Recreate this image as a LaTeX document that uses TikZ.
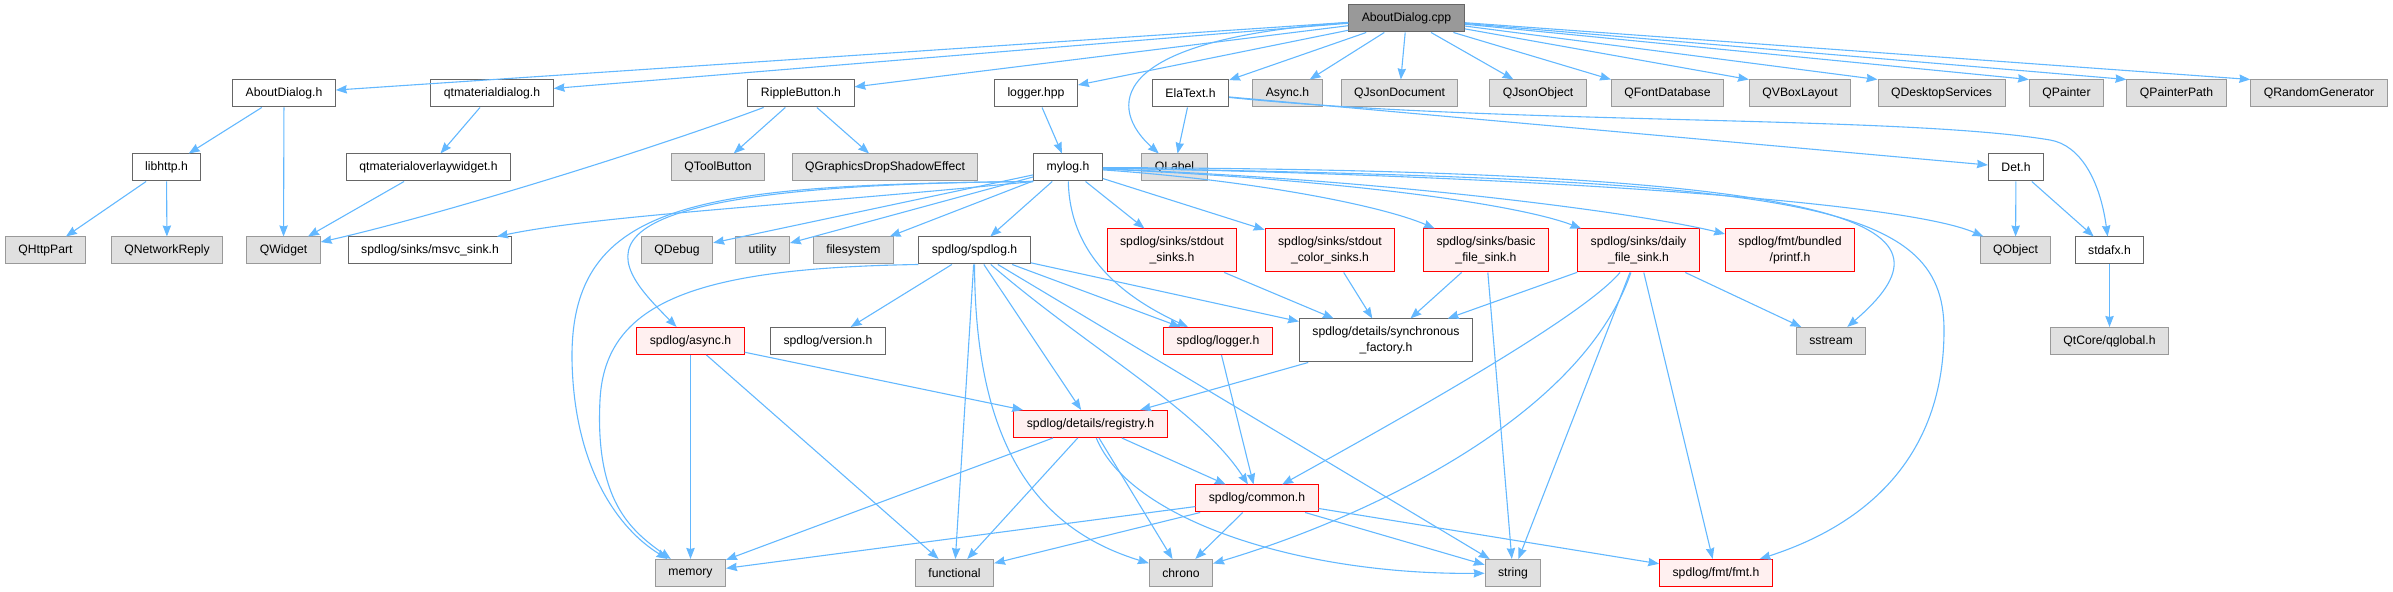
\documentclass[tikz,border=0pt]{standalone}
\usepackage{fontspec}
\setmainfont{Liberation Sans}
\usetikzlibrary{arrows.meta}

\definecolor{edgeblue}{HTML}{63B8FF}
\definecolor{hdrline}{HTML}{666666}
\definecolor{sysline}{HTML}{999999}
\definecolor{sysfill}{HTML}{E0E0E0}
\definecolor{rootfill}{HTML}{999999}
\definecolor{redline}{HTML}{FF0000}
\definecolor{redfill}{HTML}{FFF0F0}

\begin{document}
\begin{tikzpicture}
    [
        x=0.5pt, y=-0.5pt, % one unit = one pixel of the graph, y downwards
        hdrbox/.style={draw=hdrline, fill=white, rectangle, line width=0.5pt, inner xsep=6.5pt, inner ysep=1pt, minimum height=13.5pt, align=center, font=\fontsize{6.1pt}{7.8pt}\selectfont},
        rootbox/.style={hdrbox, fill=rootfill},
        sysbox/.style={hdrbox, draw=sysline, fill=sysfill},
        redbox/.style={hdrbox, draw=redline, fill=redfill},
        tallbox/.style={minimum height=21.5pt},
        dep/.style={draw=edgeblue, line width=0.55pt, -{Stealth[length=5.5pt, width=4.2pt, inset=0.5pt]}}
    ]
        \useasboundingbox (0,0) rectangle (2393,592);

        % =========================================================================
        % NODES
        % =========================================================================
        % --- Row 0 ---
        \node [rootbox] (cpp) at (1406.5,18.5) {AboutDialog.cpp};

        % --- Row 1 ---
        \node [hdrbox] (aboutdlg) at (284,93.5) {AboutDialog.h};
        \node [hdrbox] (qtmdialog) at (492,93.5) {qtmaterialdialog.h};
        \node [hdrbox] (ripple) at (801,93.5) {RippleButton.h};
        \node [hdrbox] (loggerhpp) at (1036,93.5) {logger.hpp};
        \node [hdrbox] (elatext) at (1190.5,93.5) {ElaText.h};
        \node [sysbox] (asynch) at (1287.5,93.5) {Async.h};
        \node [sysbox] (qjsondoc) at (1399.5,93.5) {QJsonDocument};
        \node [sysbox] (qjsonobj) at (1538,93.5) {QJsonObject};
        \node [sysbox] (qfontdb) at (1667.5,93.5) {QFontDatabase};
        \node [sysbox] (qvbox) at (1800,93.5) {QVBoxLayout};
        \node [sysbox] (qdesktop) at (1941.5,93.5) {QDesktopServices};
        \node [sysbox] (qpainter) at (2066.5,93.5) {QPainter};
        \node [sysbox] (qpainterpath) at (2176.5,93.5) {QPainterPath};
        \node [sysbox] (qrandom) at (2319,93.5) {QRandomGenerator};

        % --- Row 2 ---
        \node [hdrbox] (libhttp) at (166.5,167.5) {libhttp.h};
        \node [hdrbox] (overlay) at (428.5,167.5) {qtmaterialoverlaywidget.h};
        \node [sysbox] (qtoolbutton) at (718,167.5) {QToolButton};
        \node [sysbox] (qshadow) at (885,167.5) {QGraphicsDropShadowEffect};
        \node [hdrbox] (mylog) at (1068,167.5) {mylog.h};
        \node [sysbox] (qlabel) at (1174.5,167.5) {QLabel};
        \node [hdrbox] (deth) at (2016,167.5) {Det.h};

        % --- Row 3 ---
        \node [sysbox] (qhttppart) at (45.5,250.5) {QHttpPart};
        \node [sysbox] (qnetreply) at (167,250.5) {QNetworkReply};
        \node [sysbox] (qwidget) at (283.5,250.5) {QWidget};
        \node [hdrbox] (msvcsink) at (430,250.5) {spdlog/sinks/msvc\_sink.h};
        \node [sysbox] (qdebug) at (677,250.5) {QDebug};
        \node [sysbox] (utility) at (762.5,250.5) {utility};
        \node [sysbox] (filesystem) at (853.5,250.5) {filesystem};
        \node [hdrbox] (spdlogh) at (974.5,250.5) {spdlog/spdlog.h};
        \node [redbox, tallbox] (stdoutsinks) at (1172,250.5) {spdlog/sinks/stdout\\\_sinks.h};
        \node [redbox, tallbox] (colorsinks) at (1330,250.5) {spdlog/sinks/stdout\\\_color\_sinks.h};
        \node [redbox, tallbox] (basicsink) at (1486,250.5) {spdlog/sinks/basic\\\_file\_sink.h};
        \node [redbox, tallbox] (dailysink) at (1638.5,250.5) {spdlog/sinks/daily\\\_file\_sink.h};
        \node [redbox, tallbox] (printfh) at (1790,250.5) {spdlog/fmt/bundled\\/printf.h};
        \node [sysbox] (qobject) at (2015.5,250.5) {QObject};
        \node [hdrbox] (stdafx) at (2109.5,250.5) {stdafx.h};

        % --- Row 4 ---
        \node [redbox] (asyncsp) at (690.5,341) {spdlog/async.h};
        \node [hdrbox] (versionh) at (828,341) {spdlog/version.h};
        \node [redbox] (loggerh) at (1218,341) {spdlog/logger.h};
        \node [hdrbox, tallbox] (syncfactory) at (1386,340.5) {spdlog/details/synchronous\\\_factory.h};
        \node [sysbox] (sstream) at (1831,341) {sstream};
        \node [sysbox] (qglobal) at (2109.5,341) {QtCore/qglobal.h};

        % --- Rows 5 and 6 ---
        \node [redbox] (registry) at (1090.5,424) {spdlog/details/registry.h};
        \node [redbox] (common) at (1257,498.5) {spdlog/common.h};

        % --- Row 7 ---
        \node [sysbox] (memory) at (690.5,573) {memory};
        \node [sysbox] (functional) at (954.5,573) {functional};
        \node [sysbox] (chrono) at (1181,573) {chrono};
        \node [sysbox] (string) at (1513,573) {string};
        \node [redbox] (fmth) at (1716,573) {spdlog/fmt/fmt.h};

        % bends of the long curves
        \coordinate (fmtbend) at (1944,330);
        \coordinate (membend) at (572,360);
        \coordinate (spdmembend) at (600,400);
        \coordinate (stdbend) at (2050,140);

        % =========================================================================
        % PATHS
        % =========================================================================
        % --- AboutDialog.cpp ---
        \draw [dep] (cpp) -- (aboutdlg);
        \draw [dep] (cpp) -- (qtmdialog);
        \draw [dep] (cpp) -- (ripple);
        \draw [dep] (cpp) -- (loggerhpp);
        \draw [dep] (cpp) .. controls (1100,40) and (1110,110) .. (qlabel);
        \draw [dep] (cpp) -- (elatext);
        \draw [dep] (cpp) -- (asynch);
        \draw [dep] (cpp) -- (qjsondoc);
        \draw [dep] (cpp) -- (qjsonobj);
        \draw [dep] (cpp) -- (qfontdb.north west);
        \draw [dep] (cpp) -- (qvbox.north west);
        \draw [dep] (cpp) -- (qdesktop.north west);
        \draw [dep] (cpp) -- (qpainter.north west);
        \draw [dep] (cpp) -- (qpainterpath.north west);
        \draw [dep] (cpp) -- (qrandom.north west);

        % --- Qt widgets ---
        \draw [dep] (aboutdlg) -- (libhttp);
        \draw [dep] (aboutdlg) -- (qwidget);
        \draw [dep] (libhttp) -- (qhttppart);
        \draw [dep] (libhttp) -- (qnetreply);
        \draw [dep] (qtmdialog) -- (overlay);
        \draw [dep] (overlay) -- (qwidget);
        \draw [dep] (ripple) .. controls (650,150) and (440,215) .. (qwidget);
        \draw [dep] (ripple) -- (qtoolbutton);
        \draw [dep] (ripple) -- (qshadow);
        \draw [dep] (loggerhpp) -- (mylog);
        \draw [dep] (elatext) -- (qlabel);
        \draw [dep] (elatext) -- (deth);
        \draw [dep] (elatext) .. controls (1500,125) and (1900,115) .. (stdbend) .. controls (2080,145) and (2100,180) .. (stdafx);
        \draw [dep] (deth) -- (qobject);
        \draw [dep] (deth) -- (stdafx);
        \draw [dep] (stdafx) -- (qglobal);

        % --- mylog.h ---
        \draw [dep] (mylog.south west) .. controls (800,205) and (600,215) .. (msvcsink);
        \draw [dep] (mylog) -- (qdebug);
        \draw [dep] (mylog) -- (utility);
        \draw [dep] (mylog) -- (filesystem);
        \draw [dep] (mylog) -- (spdlogh);
        \draw [dep] (mylog.south west) .. controls (540,185) and (610,260) .. (asyncsp);
        \draw [dep] (mylog.south west) .. controls (700,185) and (570,200) .. (membend) .. controls (574,470) and (620,530) .. (memory);
        \draw [dep] (mylog) .. controls (1070,260) and (1130,300) .. (loggerh);
        \draw [dep] (mylog) -- (stdoutsinks);
        \draw [dep] (mylog) -- (colorsinks);
        \draw [dep] (mylog) .. controls (1250,180) and (1380,205) .. (basicsink);
        \draw [dep] (mylog) .. controls (1350,180) and (1520,205) .. (dailysink);
        \draw [dep] (mylog) .. controls (1400,180) and (1650,215) .. (printfh);
        \draw [dep] (mylog) .. controls (1500,175) and (1900,200) .. (qobject);
        \draw [dep] (mylog) .. controls (1900,170) and (1960,230) .. (sstream);
        \draw [dep] (mylog) .. controls (1800,180) and (1944,200) .. (fmtbend) .. controls (1944,470) and (1850,530) .. (fmth);

        % --- spdlog/spdlog.h ---
        \draw [dep] (spdlogh.south west) .. controls (700,268) and (605,300) .. (spdmembend) .. controls (595,500) and (630,530) .. (memory);
        \draw [dep] (spdlogh) -- (versionh);
        \draw [dep] (spdlogh) -- (functional);
        \draw [dep] (spdlogh) .. controls (975,450) and (1040,530) .. (chrono);
        \draw [dep] (spdlogh) -- (registry);
        \draw [dep] (spdlogh) .. controls (1090,350) and (1200,410) .. (common);
        \draw [dep] (spdlogh) -- (string);
        \draw [dep] (spdlogh) -- (loggerh);
        \draw [dep] (spdlogh) -- (syncfactory);

        % --- sinks ---
        \draw [dep] (stdoutsinks) -- (syncfactory);
        \draw [dep] (colorsinks) -- (syncfactory);
        \draw [dep] (basicsink) -- (syncfactory);
        \draw [dep] (basicsink) -- (string);
        \draw [dep] (dailysink) -- (syncfactory);
        \draw [dep] (dailysink) .. controls (1580,320) and (1380,430) .. (common);
        \draw [dep] (dailysink) .. controls (1580,420) and (1360,520) .. (chrono);
        \draw [dep] (dailysink) -- (string);
        \draw [dep] (dailysink) -- (fmth);
        \draw [dep] (dailysink) -- (sstream);

        % --- details ---
        \draw [dep] (asyncsp) -- (memory);
        \draw [dep] (asyncsp) -- (functional);
        \draw [dep] (asyncsp) -- (registry);
        \draw [dep] (loggerh) -- (common);
        \draw [dep] (syncfactory) -- (registry);
        \draw [dep] (registry) -- (memory);
        \draw [dep] (registry) -- (functional);
        \draw [dep] (registry) -- (chrono);
        \draw [dep] (registry) -- (common);
        \draw [dep] (registry) .. controls (1130,520) and (1300,575) .. (string);
        \draw [dep] (common) -- (memory);
        \draw [dep] (common) -- (functional);
        \draw [dep] (common) -- (chrono);
        \draw [dep] (common) -- (string);
        \draw [dep] (common) -- (fmth);

    \end{tikzpicture}
\end{document}
